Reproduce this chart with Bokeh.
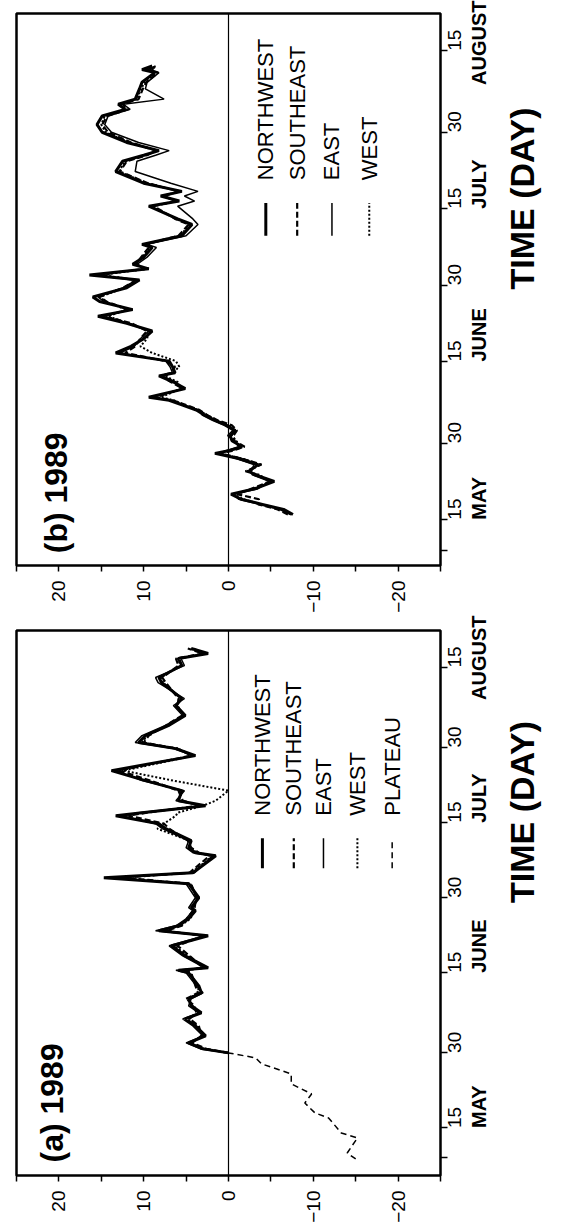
import math
from bokeh.plotting import figure
from bokeh.models import Range1d, FixedTicker, Label, Span, LinearAxis
from bokeh.layouts import column
from bokeh.embed import file_html
from bokeh.resources import INLINE

# ---------------- data (day of year 1989, anomaly value) ----------------
A_PLATEAU_DAYS = [128.8, 130.0, 131.5, 133.0, 134.0, 135.8, 137.0, 138.0, 140.0,
                  141.8, 143.8, 145.8, 147.8, 149.0, 150.0]
A_PLATEAU = [-15.0, -14.0, -14.6, -15.2, -13.3, -12.4, -11.8, -10.2, -9.0,
             -9.8, -7.4, -7.4, -3.9, -3.2, 0.0]

A_DAYS = [150.0, 150.8, 152.0, 153.4, 155.4, 156.8, 158.0, 159.4, 160.8, 162.0,
          163.4, 166.0, 166.5, 167.0, 169.4, 171.4, 173.4, 174.4, 175.4, 176.8,
          178.4, 179.0, 181.0, 183.8, 185.0, 186.0, 189.4, 190.0, 191.0, 192.4,
          194.8, 195.8, 197.4, 198.0, 199.4, 200.4, 202.4, 204.4, 206.4, 209.4,
          210.8, 212.0, 213.4, 215.4, 217.4, 219.4, 220.8, 224.0, 225.0, 227.4,
          228.8, 229.8, 230.8]
A_NORTHWEST = [0.0, 3.0, 4.7, 2.7, 3.9, 5.1, 3.2, 4.4, 4.7, 3.2,
               3.5, 4.7, 5.9, 2.4, 5.1, 6.7, 2.4, 8.2, 5.9, 4.7,
               3.9, 4.4, 3.5, 4.7, 14.7, 4.2, 1.5, 3.9, 4.7, 4.4,
               7.4, 8.2, 13.3, 10.2, 2.7, 5.9, 5.5, 9.8, 13.8, 3.9,
               6.2, 10.6, 9.8, 7.1, 5.1, 6.2, 5.5, 7.9, 8.2, 5.5,
               5.9, 2.4, 4.4]
A_SOUTHEAST = [0.0, 2.6, 4.3, 3.2, 3.5, 4.6, 3.8, 4.0, 5.0, 3.6,
               3.9, 4.4, 5.2, 3.0, 4.6, 6.0, 3.0, 7.4, 5.5, 4.9,
               4.2, 4.0, 3.8, 4.4, 12.6, 4.6, 2.2, 3.5, 4.4, 4.8,
               7.0, 7.6, 11.8, 9.6, 3.4, 5.4, 5.9, 9.2, 12.9, 4.4,
               6.0, 10.0, 9.4, 7.4, 5.5, 6.0, 5.9, 7.4, 7.8, 5.9,
               6.2, 3.0, 4.8]
A_EAST = [0.0, 3.3, 5.0, 3.0, 4.2, 5.4, 3.5, 4.7, 4.4, 3.0,
          3.8, 5.0, 6.2, 2.8, 5.4, 7.0, 2.8, 8.6, 6.2, 5.0,
          4.2, 4.7, 3.9, 5.0, 13.9, 4.0, 1.9, 4.2, 5.0, 4.7,
          7.8, 8.6, 12.6, 10.6, 3.0, 6.2, 5.2, 10.2, 13.2, 4.2,
          6.5, 11.0, 10.2, 7.5, 5.4, 6.5, 5.2, 8.3, 8.6, 5.2,
          5.6, 2.8, 4.1]
A_WEST = [0.0, 2.8, 4.5, 2.9, 3.7, 4.8, 3.4, 4.2, 4.9, 3.4,
          3.7, 4.5, 5.6, 2.7, 4.8, 6.4, 2.7, 7.8, 5.7, 4.5,
          4.0, 4.2, 3.7, 4.5, 13.2, 4.4, 1.8, 3.7, 4.5, 4.6,
          8.4, 7.6, 6.2, 6.0, 3.0, 1.5, 0.0, 6.5, 12.4, 4.1,
          6.0, 10.2, 9.6, 7.2, 5.2, 6.1, 5.6, 7.7, 8.0, 5.6,
          6.0, 2.6, 4.5]

B_DAYS = [136.0, 137.0, 138.0, 139.0, 140.0, 141.0, 142.5, 143.8, 144.5, 145.8,
          147.0, 148.0, 148.5, 149.3, 150.5, 151.5, 152.5, 153.5, 154.5, 155.5,
          156.5, 157.5, 158.4, 159.0, 160.7, 162.0, 163.2, 163.8, 165.0, 166.1,
          167.7, 169.0, 170.5, 172.0, 173.5, 174.9, 176.2, 177.8, 178.7, 180.5,
          182.0, 183.0, 184.2, 185.1, 186.5, 188.4, 189.0, 190.7, 192.9, 194.0,
          196.5, 197.5, 198.5, 199.4, 201.0, 203.3, 205.3, 206.5, 207.4, 209.0,
          211.0, 212.5, 214.2, 215.5, 216.5, 217.5, 219.5, 220.8, 222.7, 223.3,
          224.0]
B_NORTHWEST = [-7.6, -6.5, -4.0, -1.5, -0.3, -3.0, -5.4, -3.1, -2.4, -3.5,
               -1.2, 1.6, 0.0, -1.6, -0.4, -0.2, -0.8, 0.2, 1.6, 2.8,
               3.8, 5.5, 7.0, 9.4, 5.1, 6.5, 8.2, 6.3, 6.6, 7.0,
               13.3, 11.5, 10.0, 9.0, 12.0, 15.4, 11.3, 15.2, 16.0, 12.0,
               10.5, 16.4, 9.4, 11.3, 10.0, 9.0, 10.2, 5.5, 4.3, 6.0,
               9.4, 5.8, 8.0, 5.5, 10.0, 13.3, 12.5, 10.0, 8.2, 12.0,
               14.9, 15.5, 14.9, 12.2, 13.0, 11.0, 10.5, 10.2, 8.7, 10.2,
               9.0]
B_SOUTHEAST = [-7.0, -5.8, -3.5, -3.6, -1.0, -2.6, -4.9, -3.4, -2.0, -3.9,
               -1.5, 1.0, -0.4, -1.9, -0.7, -0.6, -1.0, -0.4, 1.3, 2.5,
               3.4, 5.0, 6.6, 8.6, 5.4, 6.8, 8.0, 6.8, 6.3, 7.4,
               12.2, 11.0, 10.4, 9.6, 11.4, 14.6, 11.8, 14.4, 15.2, 12.4,
               10.9, 15.5, 9.9, 10.9, 10.3, 9.4, 9.8, 5.9, 4.7, 6.3,
               8.8, 6.3, 7.6, 5.9, 9.5, 12.8, 12.0, 9.6, 8.6, 11.5,
               14.2, 14.9, 14.3, 11.8, 12.5, 10.6, 10.1, 9.7, 8.3, 9.3,
               8.4]
B_EAST = [-7.3, -6.0, -3.6, -1.2, -0.6, -3.4, -4.8, -2.8, -2.7, -3.0,
          -0.9, 1.2, 0.3, -1.2, -0.7, 0.1, -0.5, 0.5, 1.9, 3.1,
          3.5, 5.2, 6.6, 8.9, 5.5, 6.2, 7.8, 6.6, 6.9, 7.4,
          12.8, 11.1, 10.4, 9.4, 11.6, 14.8, 11.8, 14.7, 15.4, 12.4,
          10.9, 15.6, 9.8, 10.8, 9.6, 8.5, 9.6, 5.0, 3.6, 4.2,
          6.0, 4.0, 5.2, 3.6, 6.8, 11.0, 10.8, 8.6, 7.0, 10.6,
          13.8, 14.6, 14.2, 11.6, 12.4, 7.6, 9.8, 9.6, 8.2, 9.6,
          8.6]
B_WEST = [-7.4, -6.2, -3.8, -1.8, -0.5, -2.8, -5.0, -3.6, -2.2, -3.8,
          -1.6, 1.2, -0.2, -1.4, -0.9, -0.4, -0.6, 0.0, 1.4, 2.5,
          3.6, 5.2, 6.4, 8.0, 5.6, 6.0, 7.5, 6.6, 5.8, 6.2,
          9.0, 10.4, 9.6, 9.4, 11.8, 14.2, 12.0, 14.6, 15.2, 12.2,
          10.8, 15.0, 9.6, 11.0, 10.2, 9.2, 9.9, 5.7, 4.6, 6.2,
          9.0, 6.0, 7.8, 5.7, 9.6, 12.9, 12.2, 9.8, 8.4, 11.7,
          14.5, 15.0, 14.6, 12.0, 12.7, 10.8, 10.3, 9.9, 8.5, 9.0,
          8.6]

VALUE_TICKS = [-20, -10, 0, 10, 20]
VALUE_MINOR_TICKS = [-25, -15, -5, 5, 15, 25]
TIME_TICKS = [135, 150, 166, 181, 196, 211, 227]
TIME_TICK_LABELS = ["15", "30", "15", "30", "15", "30", "15"]
TIME_MINOR_TICKS = [129]
MONTH_DAYS = [135, 166, 196, 227]
MONTH_NAMES = ["MAY", "JUNE", "JULY", "AUGUST"]
TIME_TITLE = "TIME (DAY)"

LEGEND_A = ["NORTHWEST", "SOUTHEAST", "EAST", "WEST", "PLATEAU"]
LEGEND_B = ["NORTHWEST", "SOUTHEAST", "EAST", "WEST"]

# ---------------- styling ----------------
FONT = "Liberation Sans"
STYLES = {
    "NORTHWEST": dict(line_width=3.0, line_dash="solid"),
    "SOUTHEAST": dict(line_width=2.2, line_dash="6 3"),
    "EAST": dict(line_width=1.5, line_dash="solid"),
    "WEST": dict(line_width=2.0, line_dash="2 2"),
    "PLATEAU": dict(line_width=1.5, line_dash="6 4"),
}


def style_axis(ax):
    ax.axis_line_color = None
    ax.major_label_text_color = "black"
    ax.major_label_text_font = FONT
    ax.major_tick_in = 0
    ax.minor_tick_in = 0
    ax.major_tick_line_width = 1.5
    ax.minor_tick_line_width = 1.5


def make_panel(title, lines, legend_names, height, left, right, top, bottom, yr,
               legend_x, legend_text_day, legend_sample, title_x, title_day):
    p = figure(width=573, height=height, x_range=Range1d(25, -25), y_range=Range1d(*yr),
               output_backend="svg", toolbar_location=None,
               x_axis_location="below", y_axis_location="right",
               min_border_left=left, min_border_right=right,
               min_border_top=top, min_border_bottom=bottom)
    p.xgrid.visible = False
    p.ygrid.visible = False
    p.background_fill_color = "white"
    p.border_fill_color = "white"
    p.outline_line_color = "black"
    p.outline_line_width = 2.5
    p.outline_line_alpha = 1.0

    # value axis (bottom of the rotated chart)
    xa = p.xaxis[0]
    style_axis(xa)
    xa.ticker = FixedTicker(ticks=VALUE_TICKS, minor_ticks=VALUE_MINOR_TICKS)
    xa.major_label_orientation = math.pi / 2
    xa.major_label_text_font_size = "19px"
    xa.major_label_standoff = 9
    xa.major_tick_out = 6
    xa.minor_tick_out = 6

    # time axis: day numbers
    ya = p.yaxis[0]
    style_axis(ya)
    ya.ticker = FixedTicker(ticks=TIME_TICKS, minor_ticks=TIME_MINOR_TICKS)
    ya.major_label_overrides = {d: s for d, s in zip(TIME_TICKS, TIME_TICK_LABELS)}
    ya.major_label_orientation = math.pi / 2
    ya.major_label_text_font_size = "19px"
    ya.major_label_standoff = 7
    ya.major_tick_out = 7
    ya.minor_tick_out = 7

    # time axis: month names + axis title
    ma = LinearAxis()
    style_axis(ma)
    ma.ticker = FixedTicker(ticks=MONTH_DAYS, minor_ticks=[])
    ma.major_label_overrides = {d: s for d, s in zip(MONTH_DAYS, MONTH_NAMES)}
    ma.major_label_orientation = math.pi / 2
    ma.major_label_text_font_size = "20px"
    ma.major_label_text_font_style = "bold"
    ma.major_label_standoff = 9
    ma.major_tick_out = 0
    ma.minor_tick_out = 0
    ma.major_tick_line_color = None
    ma.minor_tick_line_color = None
    ma.axis_label = TIME_TITLE
    ma.axis_label_text_font = FONT
    ma.axis_label_text_font_style = "bold"
    ma.axis_label_text_font_size = "34px"
    ma.axis_label_text_color = "black"
    ma.axis_label_standoff = 17
    try:
        ma.axis_label_orientation = math.pi / 2
    except Exception:
        pass
    p.add_layout(ma, "right")

    p.add_layout(Span(location=0, dimension="height", line_color="black", line_width=1.2))

    for name, (days, vals) in lines:
        p.line(x=vals, y=days, line_color="black", **STYLES[name])

    # legend (drawn rotated like the rest of the chart)
    for name, lx in zip(legend_names, legend_x):
        p.line(x=[lx, lx], y=list(legend_sample), line_color="black", **STYLES[name])
        p.add_layout(Label(x=lx, y=legend_text_day, text=name, angle=math.pi / 2,
                           text_align="left", text_baseline="middle",
                           text_font=FONT, text_font_size="22px", text_color="black"))

    p.add_layout(Label(x=title_x, y=title_day, text=title, angle=math.pi / 2,
                       text_align="left", text_baseline="middle",
                       text_font=FONT, text_font_style="bold", text_font_size="32px",
                       text_color="black"))
    return p


lines_b = [
    ("WEST", (B_DAYS, B_WEST)),
    ("SOUTHEAST", (B_DAYS, B_SOUTHEAST)),
    ("EAST", (B_DAYS, B_EAST)),
    ("NORTHWEST", (B_DAYS, B_NORTHWEST)),
]
lines_a = [
    ("PLATEAU", (A_PLATEAU_DAYS, A_PLATEAU)),
    ("WEST", (A_DAYS, A_WEST)),
    ("SOUTHEAST", (A_DAYS, A_SOUTHEAST)),
    ("EAST", (A_DAYS, A_EAST)),
    ("NORTHWEST", (A_DAYS, A_NORTHWEST)),
]

fig_b = make_panel("(b) 1989", lines_b, LEGEND_B, height=615, left=13, right=133, top=13,
                   bottom=43, yr=(126.0, 234.3),
                   legend_x=[-4.4, -8.1, -12.2, -16.6], legend_text_day=201.6,
                   legend_sample=(190.7, 197.1), title_x=20.3, title_day=128.4)
fig_a = make_panel("(a) 1989", lines_a, LEGEND_A, height=611, left=16, right=130, top=15,
                   bottom=51, yr=(125.5, 234.4),
                   legend_x=[-4.0, -7.7, -11.2, -15.2, -19.3], legend_text_day=197.4,
                   legend_sample=(186.9, 192.9), title_x=20.8, title_day=128.1)

layout = column(fig_b, fig_a, spacing=0)
open("out.html", "w").write(file_html(layout, INLINE))
